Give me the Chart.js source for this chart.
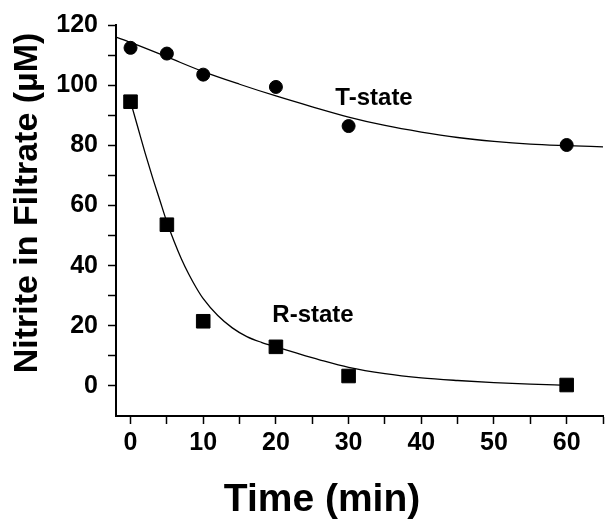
<!DOCTYPE html>
<html>
<head>
<meta charset="utf-8">
<script src="https://cdn.jsdelivr.net/npm/chart.js@4"></script>
<style>
  body { margin: 0; background: #fff; }
  #wrap { width: 614px; height: 530px; }
</style>
</head>
<body>
<div id="wrap"><canvas id="nitriteChart" width="614" height="530"></canvas></div>
<script>
// measured points
const timeT = [0, 5, 10, 20, 30, 60];
const nitriteT = [112.4, 110.5, 103.5, 99.4, 86.4, 80.1];
const timeR = [0, 5, 10, 20, 30, 60];
const nitriteR = [94.5, 53.6, 21.5, 13.0, 3.3, 0.3];

// fitted curves
const fitTimeT = [-2, 0, 5, 10, 15, 20, 25, 30, 35, 40, 45, 50, 55, 60, 65];
const fitT = [116, 114.2, 109.4, 104.5, 100.3, 96.4, 92.8, 89.4, 86.6, 84.4, 82.6, 81.3, 80.4, 79.9, 79.5];
const fitTimeR = [0, 1, 2, 3, 4, 5, 6, 7, 8, 9, 10, 12, 14, 16, 18, 20, 23, 26, 30, 35, 40, 45, 50, 55, 60];
const fitR = [94.5, 86, 77.5, 69.5, 62, 54.5, 48, 42.2, 37.2, 32.8, 29, 23.4, 19.3, 16.4, 14.5, 13.0, 10.8, 8.7, 6.2, 4.1, 2.7, 1.8, 1.1, 0.6, 0.2];

const xTicks = [0, 10, 20, 30, 40, 50, 60];
const yTicks = [0, 20, 40, 60, 80, 100, 120];

const stateLabels = [
    { text: 'T-state', t: 33.5, v: 93.4 },
    { text: 'R-state', t: 25.1, v: 21.2 }
];

const FONT = '"Liberation Sans", Arial, sans-serif';

const toXY = (xs, ys) => xs.map((x, i) => ({ x: x, y: ys[i] }));

const textPlugin = {
    id: 'textPlugin',
    afterDraw(chart) {
        const { ctx, scales } = chart;
        ctx.save();
        ctx.fillStyle = '#000';
        ctx.textAlign = 'center';
        ctx.textBaseline = 'alphabetic';

        ctx.font = 'bold 24px ' + FONT;
        stateLabels.forEach(l => {
            ctx.fillText(l.text, scales.x.getPixelForValue(l.t), scales.y.getPixelForValue(l.v));
        });

        ctx.font = 'bold 39px ' + FONT;
        ctx.fillText('Time (min)', 322, 511);

        ctx.translate(37, 203);
        ctx.rotate(-Math.PI / 2);
        ctx.font = 'bold 34px ' + FONT;
        ctx.fillText('Nitrite in Filtrate (\u00B5M)', 0, 0);
        ctx.restore();
    }
};

new Chart(document.getElementById('nitriteChart'), {
    type: 'scatter',
    data: {
        datasets: [
            {
                label: 'T-state fit',
                data: toXY(fitTimeT, fitT),
                showLine: true,
                borderColor: '#000',
                borderWidth: 1.3,
                pointRadius: 0,
                cubicInterpolationMode: 'monotone'
            },
            {
                label: 'R-state fit',
                data: toXY(fitTimeR, fitR),
                showLine: true,
                borderColor: '#000',
                borderWidth: 1.3,
                pointRadius: 0,
                cubicInterpolationMode: 'monotone'
            },
            {
                label: 'T-state',
                data: toXY(timeT, nitriteT),
                pointStyle: 'circle',
                pointRadius: 6.5,
                backgroundColor: '#000',
                borderColor: '#000',
                borderWidth: 1
            },
            {
                label: 'R-state',
                data: toXY(timeR, nitriteR),
                pointStyle: 'rect',
                pointRadius: 9.6,
                backgroundColor: '#000',
                borderColor: '#000',
                borderWidth: 1
            }
        ]
    },
    options: {
        responsive: false,
        animation: false,
        layout: { padding: { top: 24, right: 11, left: 0, bottom: 0 } },
        plugins: {
            legend: { display: false },
            tooltip: { enabled: false }
        },
        scales: {
            x: {
                type: 'linear',
                min: -2,
                max: 65,
                afterFit: s => { s.height = 114; },
                border: { display: true, color: '#000', width: 2 },
                grid: {
                    drawOnChartArea: false,
                    drawTicks: true,
                    tickLength: 8,
                    tickColor: '#000',
                    tickWidth: 1.5
                },
                ticks: {
                    stepSize: 5,
                    includeBounds: false,
                    maxRotation: 0,
                    autoSkip: false,
                    padding: 4,
                    color: '#000',
                    font: { family: FONT, size: 25, weight: 'bold' },
                    callback: v => xTicks.includes(v) ? String(v) : ''
                }
            },
            y: {
                type: 'linear',
                min: -10,
                max: 120,
                afterFit: s => { s.width = 116; },
                border: { display: true, color: '#000', width: 2 },
                grid: {
                    drawOnChartArea: false,
                    drawTicks: true,
                    tickLength: 8,
                    tickColor: c => (c.tick && c.tick.value === -10) ? 'rgba(0,0,0,0)' : '#000',
                    tickWidth: 1.5
                },
                ticks: {
                    stepSize: 10,
                    includeBounds: false,
                    autoSkip: false,
                    padding: 10,
                    color: '#000',
                    font: { family: FONT, size: 25, weight: 'bold' },
                    callback: v => yTicks.includes(v) ? String(v) : ''
                }
            }
        }
    },
    plugins: [textPlugin]
});
</script>
</body>
</html>
